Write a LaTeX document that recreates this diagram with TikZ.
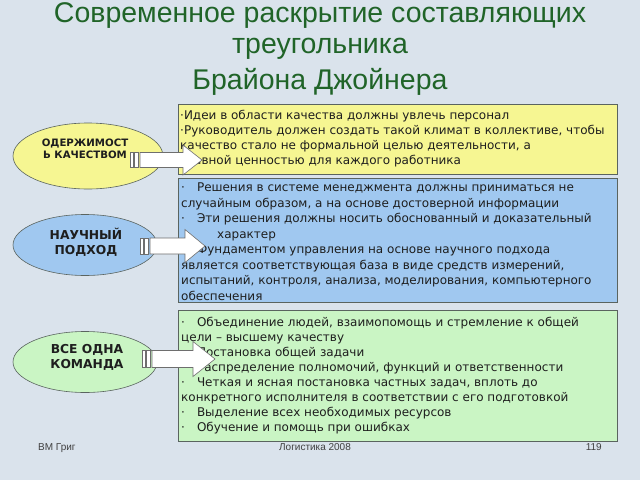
\documentclass[tikz,border=0pt]{standalone}
\usepackage{fontspec}
\setmainfont{Liberation Sans}
\newfontfamily\verd{DejaVu Sans}
\usetikzlibrary{shapes.geometric}
\definecolor{bgc}{RGB}{218,227,236}
\definecolor{titc}{RGB}{32,100,40}
\definecolor{yel}{RGB}{246,246,146}
\definecolor{blu}{RGB}{160,200,240}
\definecolor{grn}{RGB}{202,245,196}
\definecolor{bord}{RGB}{90,100,95}
\definecolor{arrb}{RGB}{110,110,110}
\definecolor{txt}{RGB}{30,30,30}
\tikzset{
  infobox/.style={draw=bord, line width=0.8pt},
  oval/.style={ellipse, draw=bord, line width=0.6pt, inner sep=0pt},
  ovaltext/.style={inner sep=0pt, align=center, text=txt, font=\verd\bfseries\fontsize{12.3}{15}\selectfont},
  boxtext/.style={anchor=north west, inner sep=0pt, align=left, text=txt, font=\verd\fontsize{12}{15.3}\selectfont},
  blockarrow/.style={fill=white, draw=arrb, line width=0.6pt},
  foot/.style={font=\fontsize{10}{12}\selectfont, text=black!75, inner sep=0pt}
}
\begin{document}
\begin{tikzpicture}[x=1pt,y=-1pt]
\fill[bgc] (0,0) rectangle (640,480);
\useasboundingbox (0,0) rectangle (640,480);
% title
\node[text=titc, font=\fontsize{28.5}{31}\selectfont, align=center, inner sep=0pt] (t1) at (320,31) {Современное раскрытие составляющих\\треугольника};
\node[text=titc, font=\fontsize{28.5}{31}\selectfont, inner sep=0pt] (t2) at (320,82) {Брайона Джойнера};
% boxes
\node[infobox, fill=yel, anchor=north west, minimum width=439, minimum height=70, inner sep=0pt] (b1) at (178,104) {};
\node[infobox, fill=blu, anchor=north west, minimum width=439, minimum height=124, inner sep=0pt] (b2) at (178,178) {};
\node[infobox, fill=grn, anchor=north west, minimum width=439, minimum height=131, inner sep=0pt] (b3) at (178,310) {};
\node[boxtext] (x1) at (180,109.5) {·Идеи в области качества должны увлечь персонал\\
·Руководитель должен создать такой климат в коллективе, чтобы\\
качество стало не формальной целью деятельности, а\\
главной ценностью для каждого работника};
\node[boxtext, font=\verd\fontsize{12}{15.5}\selectfont] (x2) at (181,183) {·\hspace{12pt}Решения в системе менеджмента должны приниматься не\\
случайным образом, а на основе достоверной информации\\
·\hspace{12pt}Эти решения должны носить обоснованный и доказательный\\
\hspace{36pt}характер\\
·\hspace{12pt}Фундаментом управления на основе научного подхода\\
является соответствующая база в виде средств измерений,\\
испытаний, контроля, анализа, моделирования, компьютерного\\
обеспечения};
\node[boxtext, font=\verd\fontsize{12}{15}\selectfont] (x3) at (181,317) {·\hspace{12pt}Объединение людей, взаимопомощь и стремление к общей\\
цели – высшему качеству\\
·\hspace{12pt}Постановка общей задачи\\
·\hspace{12pt}Распределение полномочий, функций и ответственности\\
·\hspace{12pt}Четкая и ясная постановка частных задач, вплоть до\\
конкретного исполнителя в соответствии с его подготовкой\\
·\hspace{12pt}Выделение всех необходимых ресурсов\\
·\hspace{12pt}Обучение и помощь при ошибках};
% ovals
\node[oval, fill=yel, minimum width=150, minimum height=66] (e1) at (88,156) {};
\node[oval, fill=blu, minimum width=144, minimum height=61] (e2) at (85,245) {};
\node[oval, fill=grn, minimum width=144, minimum height=61] (e3) at (85,362) {};
\node[ovaltext, font=\verd\bfseries\fontsize{10.2}{12.5}\selectfont] (l1) at (85,149) {ОДЕРЖИМОСТ\\Ь КАЧЕСТВОМ};
\node[ovaltext] (l2) at (86,242) {НАУЧНЫЙ\\ПОДХОД};
\node[ovaltext] (l3) at (87,357.5) {ВСЕ ОДНА\\КОМАНДА};
% striped block arrows
\foreach \c/\s/\h/\t/\a/\b in {160/130/183/202/7.5/15, 246/140/185/205/8/16.5, 359/142/193/215/8.5/17.5}{
  \draw[blockarrow] (\s,\c-\a) rectangle (\s+3,\c+\a);
  \draw[blockarrow] (\s+4.5,\c-\a) rectangle (\s+8,\c+\a);
  \draw[blockarrow] (\s+10,\c-\a) -- (\h,\c-\a) -- (\h,\c-\b) -- (\t,\c) -- (\h,\c+\b) -- (\h,\c+\a) -- (\s+10,\c+\a) -- cycle;
}
% footer
\node[foot, anchor=base west] (f1) at (38,450) {ВМ Григ};
\node[foot, anchor=base] (f2) at (315,450) {Логистика 2008};
\node[foot, anchor=base east] (f3) at (602,450) {119};
\end{tikzpicture}
\end{document}
